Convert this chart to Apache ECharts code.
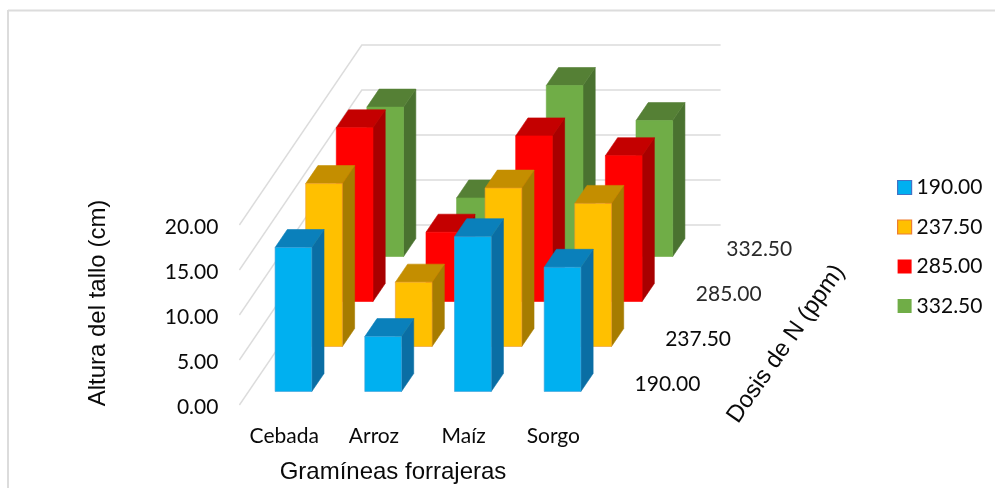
<!DOCTYPE html>
<html>
<head>
<meta charset="utf-8">
<style>html,body{margin:0;padding:0;background:#fff}#chart{width:995px;height:488px}</style>
<script src="https://cdn.jsdelivr.net/npm/echarts@6/dist/echarts.min.js"></script>
</head>
<body>
<div id="chart"></div>
<script>
// Altura del tallo por gramínea y dosis de N
const categorias = ['Cebada', 'Arroz', 'Maíz', 'Sorgo'];
const dosis = ['190.00', '237.50', '285.00', '332.50'];
const alturaTicks = [0, 5, 10, 15, 20];
const altura190 = [16.0, 6.1, 17.2, 13.8];
const altura237 = [18.1, 7.15, 17.6, 15.9];
const altura285 = [19.3, 7.7, 18.4, 16.2];
const altura332 = [16.6, 6.5, 19.0, 15.1];
const alturas = [altura190, altura237, altura285, altura332];

const caras = [
  { frente: '#00b0f0', lado: '#0a6ea4', techo: '#0a80bb', borde: '#3f9fd8', leyenda: '#4472c4' },
  { frente: '#ffc000', lado: '#a67c00', techo: '#c48e00', borde: '#ed9a31', leyenda: '#ed7d31' },
  { frente: '#ff0000', lado: '#a80000', techo: '#c40000', borde: '#ff0000', leyenda: '#ff0000' },
  { frente: '#70ad47', lado: '#4a7230', techo: '#558035', borde: '#70ad47', leyenda: '#70ad47' }
];

// Proyección oblicua: desplazamiento en pantalla por cada fila de profundidad
const PASO_X = 30.6;
const PASO_Y = -45;
const FONDO_INI = 0.3;
const FONDO_FIN = 0.7;
const MUROS = '#dcdcdc';
const TEXTO = '#0a0a0a';
const LETRA = 'Lato, Carlito, sans-serif';
const ARIAL = '"Liberation Sans", Arial, sans-serif';

const enProfundidad = (p, f) => [p[0] + f * PASO_X, p[1] + f * PASO_Y];

function barra3d(fila) {
  return function (params, api) {
    const cat = api.value(0);
    const base = api.coord([cat, 0]);
    const cima = api.coord([cat, api.value(1)]);
    const ancho = api.size([1, 0])[0] * 0.409;
    const c = caras[fila];
    const f0 = fila + FONDO_INI;
    const f1 = fila + FONDO_FIN;
    const izq = base[0] - ancho / 2;
    const der = base[0] + ancho / 2;
    const a = enProfundidad([izq, base[1]], f0);
    const b = enProfundidad([der, base[1]], f0);
    const d = enProfundidad([der, cima[1]], f0);
    const e = enProfundidad([izq, cima[1]], f0);
    const g = enProfundidad([der, base[1]], f1);
    const h = enProfundidad([der, cima[1]], f1);
    const k = enProfundidad([izq, cima[1]], f1);
    const cara = (pts, fill, stroke) => ({
      type: 'polygon',
      shape: { points: pts },
      style: { fill: fill, stroke: stroke || fill, lineWidth: 0.6 }
    });
    return {
      type: 'group',
      children: [
        cara([b, g, h, d], c.lado),
        cara([e, d, h, k], c.techo),
        cara([a, b, d, e], c.frente, c.borde)
      ]
    };
  };
}

// Paredes laterales y de fondo, una línea por cada marca del eje de altura
function muro(params, api) {
  const inicio = api.coord([0, api.value(0)]);
  const gridInfo = params.coordSys;
  const esquina = [gridInfo.x, inicio[1]];
  const fondo = enProfundidad(esquina, 4);
  return {
    type: 'polyline',
    shape: { points: [esquina, fondo, [fondo[0] + gridInfo.width, fondo[1]]] },
    style: { stroke: MUROS, lineWidth: 1.4, fill: null }
  };
}

// Rótulos del eje de profundidad
function rotuloDosis(params, api) {
  const fila = params.dataIndex;
  const gridInfo = params.coordSys;
  const base = [gridInfo.x + gridInfo.width, api.coord([0, 0])[1]];
  const p = enProfundidad(base, fila + 0.5);
  return {
    type: 'text',
    x: p[0] + 54,
    y: p[1] + 1.5,
    style: {
      text: dosis[fila],
      align: 'center',
      verticalAlign: 'middle',
      font: '21px ' + LETRA,
      fill: fila < 2 ? TEXTO : '#2a2a2a'
    }
  };
}

const seriesBarras = dosis.map((nombre, fila) => ({
  name: nombre,
  type: 'custom',
  coordinateSystem: 'cartesian2d',
  z: 10 - fila,
  silent: true,
  itemStyle: { color: caras[fila].frente },
  encode: { x: 0, y: 1 },
  renderItem: barra3d(fila),
  data: categorias.map((_, i) => [i, alturas[fila][i]])
}));

const chart = echarts.init(document.getElementById('chart'), null, { renderer: 'canvas' });
chart.setOption({
  animation: false,
  backgroundColor: '#fff',
  grid: { left: 239.4, top: 225, width: 358.8, height: 180 },
  xAxis: {
    type: 'category',
    data: categorias,
    axisLine: { show: false },
    axisTick: { show: false },
    splitLine: { show: false },
    axisLabel: { color: TEXTO, fontFamily: LETRA, fontSize: 21, margin: 21, interval: 0, hideOverlap: false }
  },
  yAxis: {
    type: 'value',
    min: 0,
    max: 20,
    interval: 5,
    axisLine: { show: false },
    axisTick: { show: false },
    splitLine: { show: false },
    axisLabel: {
      margin: 21,
      formatter: v => '{n|' + v.toFixed(2) + '}',
      rich: {
        n: {
          color: TEXTO,
          fontFamily: LETRA,
          fontSize: 21,
          lineHeight: 21,
          padding: [5, 0, 0, 0]
        }
      }
    }
  },
  legend: {
    left: 892,
    top: 172,
    orient: 'vertical',
    selectedMode: false,
    itemWidth: 14,
    itemHeight: 14,
    itemGap: 18.5,
    icon: 'rect',
    textStyle: { color: TEXTO, fontFamily: LETRA, fontSize: 21 },
    data: dosis.map((nombre, fila) => ({
      name: nombre,
      itemStyle: {
        color: caras[fila].frente,
        borderColor: caras[fila].leyenda,
        borderWidth: fila < 2 ? 1.2 : 0
      }
    }))
  },
  graphic: [
    { type: 'line', silent: true, shape: { x1: 8, y1: 10.5, x2: 995, y2: 10.5 }, style: { stroke: '#dcdcdc', lineWidth: 2 } },
    { type: 'line', silent: true, shape: { x1: 8, y1: 10, x2: 8, y2: 488 }, style: { stroke: '#dcdcdc', lineWidth: 2 } },
    { type: 'text', silent: true, x: 393, y: 472, style: { text: 'Gramíneas forrajeras', align: 'center', verticalAlign: 'middle', font: '24px ' + ARIAL, fill: TEXTO } },
    { type: 'text', silent: true, x: 98, y: 303, rotation: Math.PI / 2, style: { text: 'Altura del tallo (cm)', align: 'center', verticalAlign: 'middle', font: '24px ' + ARIAL, fill: TEXTO } },
    { type: 'text', silent: true, x: 786, y: 344, rotation: 55 * Math.PI / 180, style: { text: 'Dosis de N (ppm)', align: 'center', verticalAlign: 'middle', font: '24px ' + ARIAL, fill: TEXTO } }
  ],
  series: [
    { type: 'custom', z: 1, silent: true, renderItem: muro, encode: { y: 0 }, data: alturaTicks.map(v => [v]) },
    { type: 'custom', z: 1, silent: true, renderItem: rotuloDosis, data: dosis.map((_, i) => [0, i]), encode: { x: 0 } }
  ].concat(seriesBarras)
});
</script>
</body>
</html>
